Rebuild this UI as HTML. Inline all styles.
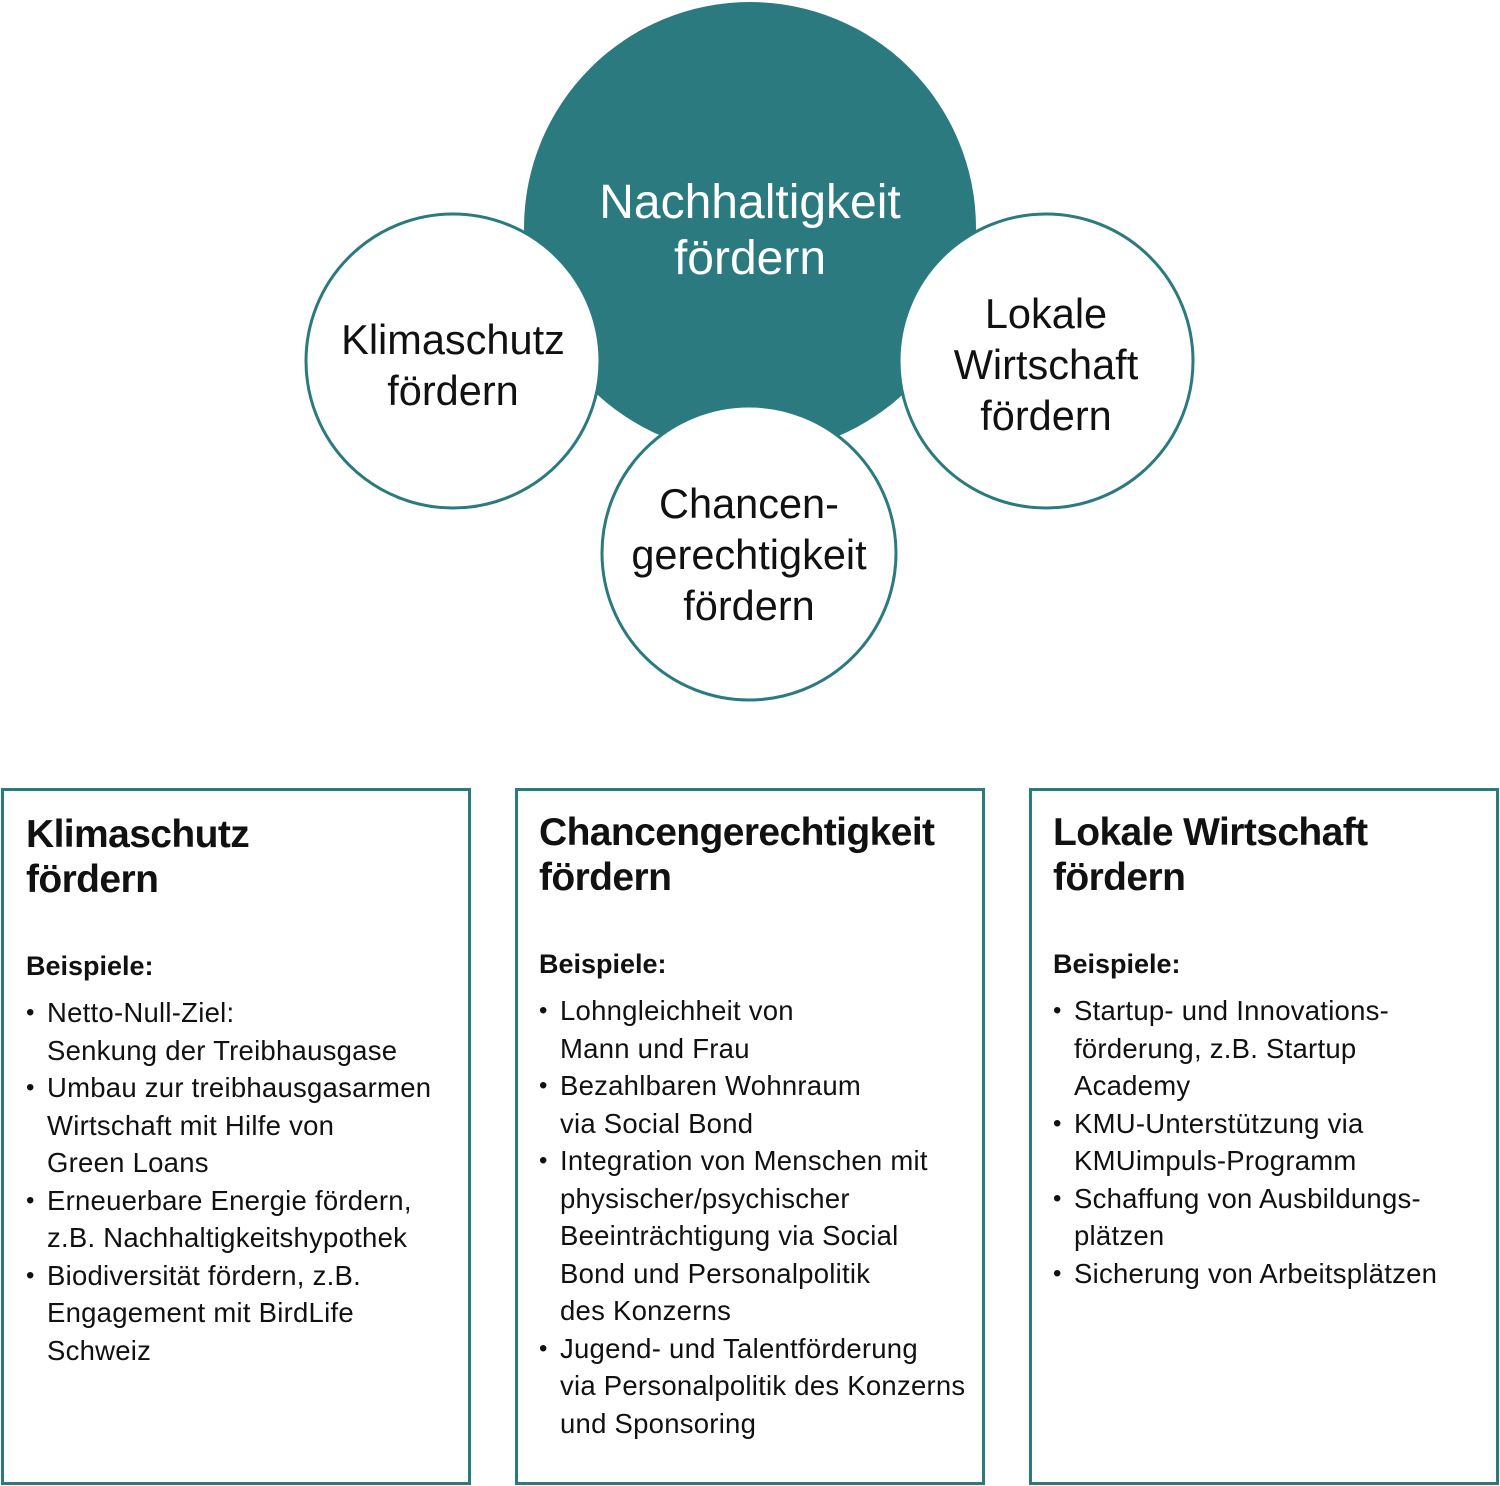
<!DOCTYPE html>
<html><head><meta charset="utf-8"><style>
body{margin:0;width:1500px;height:1486px;background:#fff;position:relative;overflow:hidden;font-family:"Liberation Sans",Arial,sans-serif;color:#111}
.c{position:absolute;text-align:center;line-height:51px;font-size:41.5px;white-space:nowrap}
.box{position:absolute;top:788px;height:697px;width:464px;border:3px solid #2b7a80;box-sizing:border-box}
.h{position:absolute;font-weight:bold;font-size:39px;letter-spacing:-0.6px;line-height:45px;top:21px;white-space:nowrap}
.b{position:absolute;font-weight:bold;font-size:27px;line-height:32px;top:159px}
ul{position:absolute;margin:0;padding:0;list-style:none;top:203px;font-size:27.5px;letter-spacing:0.25px;line-height:37.5px;white-space:nowrap}
li{position:relative;padding-left:21px}
li:before{content:"•";position:absolute;left:0;font-size:24px}
</style></head><body>
<svg width="1500" height="720" style="position:absolute;left:0;top:0">
<circle cx="750" cy="228" r="226" fill="#2b7a80"/>
<circle cx="453" cy="361" r="147" fill="#fff" stroke="#2b7a80" stroke-width="3"/>
<circle cx="1046" cy="361" r="147" fill="#fff" stroke="#2b7a80" stroke-width="3"/>
<circle cx="749" cy="553" r="147" fill="#fff" stroke="#2b7a80" stroke-width="3"/>
</svg>
<div class="c" style="left:550px;width:400px;top:175px;font-size:48px;line-height:56px;color:#fff">Nachhaltigkeit<br>fördern</div>
<div class="c" style="left:303px;width:300px;top:314px">Klimaschutz<br>fördern</div>
<div class="c" style="left:896px;width:300px;top:288px">Lokale<br>Wirtschaft<br>fördern</div>
<div class="c" style="left:599px;width:300px;top:478px">Chancen-<br>gerechtigkeit<br>fördern</div>

<div class="box" style="left:1px;width:470px">
<div class="h" style="left:22px">Klimaschutz<br>fördern</div>
<div class="b" style="left:22px">Beispiele:</div>
<ul style="left:22px"><li>Netto-Null-Ziel:<br>Senkung der Treibhausgase</li><li>Umbau zur treibhausgasarmen<br>Wirtschaft mit Hilfe von<br>Green Loans</li><li>Erneuerbare Energie fördern,<br>z.B. Nachhaltigkeitshypothek</li><li>Biodiversität fördern, z.B.<br>Engagement mit BirdLife<br>Schweiz</li></ul>
</div>
<div class="box" style="left:515px;width:470px">
<div class="h" style="left:21px;top:19px">Chancengerechtigkeit<br>fördern</div>
<div class="b" style="left:21px;top:157px">Beispiele:</div>
<ul style="left:21px;top:201px"><li>Lohngleichheit von<br>Mann und Frau</li><li>Bezahlbaren Wohnraum<br>via Social Bond</li><li>Integration von Menschen mit<br>physischer/psychischer<br>Beeinträchtigung via Social<br>Bond und Personalpolitik<br>des Konzerns</li><li>Jugend- und Talentförderung<br>via Personalpolitik des Konzerns<br>und Sponsoring</li></ul>
</div>
<div class="box" style="left:1029px;width:470px">
<div class="h" style="left:21px;top:19px">Lokale Wirtschaft<br>fördern</div>
<div class="b" style="left:21px;top:157px">Beispiele:</div>
<ul style="left:21px;top:201px"><li>Startup- und Innovations-<br>förderung, z.B. Startup<br>Academy</li><li>KMU-Unterstützung via<br>KMUimpuls-Programm</li><li>Schaffung von Ausbildungs-<br>plätzen</li><li>Sicherung von Arbeitsplätzen</li></ul>
</div>
</body></html>
